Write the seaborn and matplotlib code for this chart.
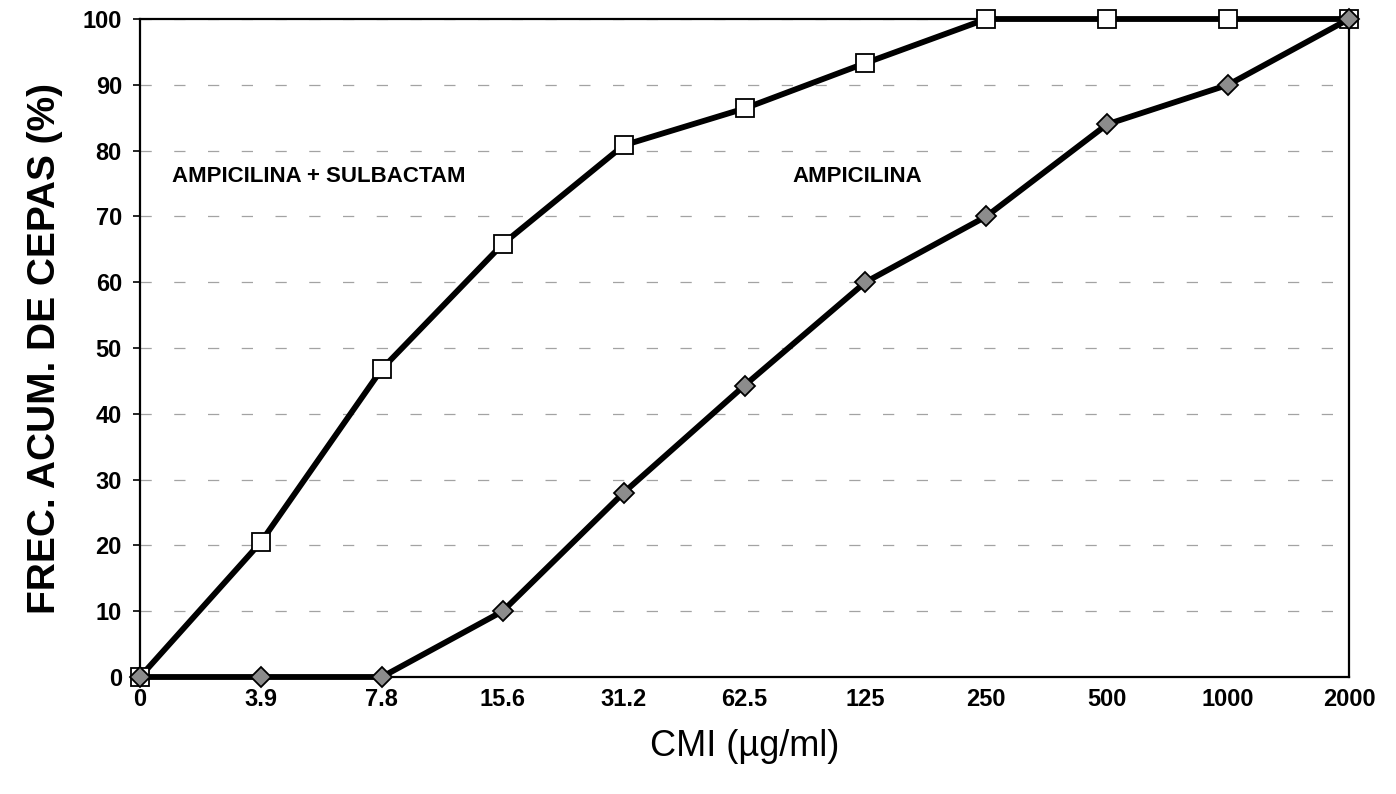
import matplotlib
matplotlib.use("Agg")
import matplotlib.pyplot as plt
import seaborn as sns
import pandas as pd

# ---- data ----
cmi_labels = ["0", "3.9", "7.8", "15.6", "31.2", "62.5", "125", "250", "500", "1000", "2000"]
amp_sulb = [0, 20.5, 46.8, 65.8, 80.8, 86.4, 93.3, 100, 100, 100, 100]
amp = [0, 0, 0, 10, 28, 44.3, 60, 70, 84, 90, 100]
series_names = ["AMPICILINA + SULBACTAM", "AMPICILINA"]
y_ticks = [0, 10, 20, 30, 40, 50, 60, 70, 80, 90, 100]

pos = list(range(len(cmi_labels)))
df = pd.DataFrame({
    "pos": pos * 2,
    "freq": amp_sulb + amp,
    "serie": [series_names[0]] * len(pos) + [series_names[1]] * len(pos),
})

sns.set_theme(style="white")
plt.rcParams["font.family"] = ["Liberation Sans", "DejaVu Sans"]

fig = plt.figure(figsize=(13.96, 7.94), dpi=100)
ax = fig.add_axes([140 / 1396, 1 - 677 / 794, (1349 - 140) / 1396, (677 - 19) / 794])

ax.grid(axis="y", color="#333333", linewidth=0.9, linestyle=(0, (9, 18)), alpha=0.45)
ax.set_axisbelow(True)

sns.lineplot(data=df, x="pos", y="freq", hue="serie", style="serie",
             palette={series_names[0]: "black", series_names[1]: "black"},
             markers={series_names[0]: "s", series_names[1]: "D"},
             dashes=False, linewidth=4.2, legend=False, ax=ax, zorder=3)

# marker styling
for ln in ax.get_lines():
    if ln.get_marker() == "s":
        ln.set_markersize(13)
        ln.set_markerfacecolor("white")
        ln.set_markeredgecolor("black")
        ln.set_markeredgewidth(1.3)
    elif ln.get_marker() == "D":
        ln.set_markersize(10)
        ln.set_markerfacecolor("#8c8c8c")
        ln.set_markeredgecolor("black")
        ln.set_markeredgewidth(1.3)
    ln.set_clip_on(False)

ax.set_xlim(0, len(cmi_labels) - 1)
ax.set_ylim(0, 100)
ax.set_xticks(pos)
ax.set_xticklabels(cmi_labels)
ax.set_yticks(y_ticks)

ax.tick_params(axis="y", which="both", left=True, length=5, width=1.2, pad=8,
               labelsize=17, direction="out", color="black")
ax.tick_params(axis="x", which="both", bottom=False, length=0, pad=8, labelsize=17)
for lab in ax.get_xticklabels() + ax.get_yticklabels():
    lab.set_fontweight("bold")
    lab.set_color("black")

for sp in ax.spines.values():
    sp.set_visible(True)
    sp.set_color("black")
    sp.set_linewidth(1.6)

ax.set_xlabel("CMI (µg/ml)", fontsize=26, labelpad=13, color="black")
ax.set_ylabel("FREC. ACUM. DE CEPAS (%)", fontsize=28, fontweight="bold", labelpad=14, color="black")

ax.text(0.265, 76, series_names[0], fontsize=16, fontweight="bold", ha="left", va="center", color="black")
ax.text(5.40, 76, series_names[1], fontsize=16, fontweight="bold", ha="left", va="center", color="black")

fig.savefig("out.png", dpi=100, facecolor="white")
